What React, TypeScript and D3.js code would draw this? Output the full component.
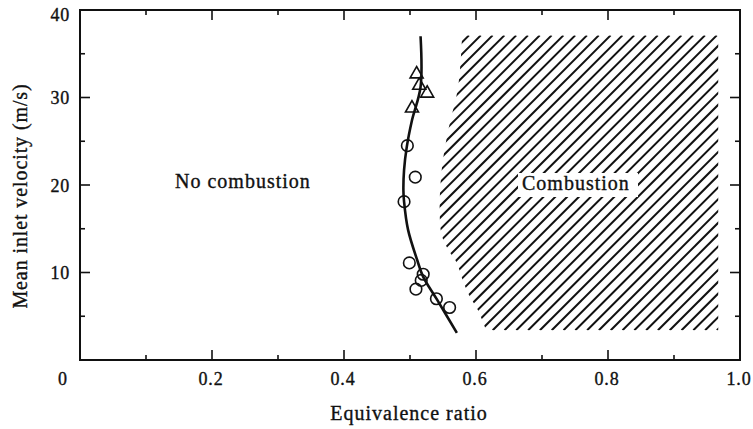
import React from "react";
import * as d3 from "d3";

// ---- data ----
const curvePhi = [0.516, 0.516, 0.503, 0.495, 0.491, 0.490, 0.491, 0.497, 0.511, 0.520, 0.541, 0.571];
const curveVel = [37.0, 31.2, 27.4, 24.3, 21.7, 19.4, 18.1, 14.9, 11.4, 9.5, 6.9, 3.1];

const triPhi = [0.510, 0.514, 0.526, 0.503];
const triVel = [32.8, 31.5, 30.6, 28.9];

const circPhi = [0.496, 0.508, 0.491, 0.499, 0.520, 0.517, 0.509, 0.540, 0.560];
const circVel = [24.5, 20.9, 18.1, 11.1, 9.8, 9.1, 8.1, 7.0, 6.0];

// left boundary of the combustion (hatched) region
const hatchPhi = [0.579, 0.573, 0.558, 0.548, 0.545, 0.548, 0.558, 0.571, 0.580, 0.591, 0.603, 0.614];
const hatchVel = [37.1, 31.2, 26.3, 21.7, 16.8, 14.3, 12.6, 11.1, 9.1, 7.2, 5.7, 3.7];
const hatchRight = 0.967;
const hatchTop = 37.1;
const hatchBottom = 3.4;

const xTickValues = [0, 0.1, 0.2, 0.3, 0.4, 0.5, 0.6, 0.7, 0.8, 0.9, 1.0];
const xLabelValues = [0, 0.2, 0.4, 0.6, 0.8, 1.0];
const xLabelTexts = ["0", "0.2", "0.4", "0.6", "0.8", "1.0"];
const yTickValues = [0, 5, 10, 15, 20, 25, 30, 35, 40];
const yLabelValues = [10, 20, 30, 40];
const yLabelTexts = ["10", "20", "30", "40"];

const W = 753;
const H = 429;
const M = { left: 80, right: 13, top: 10, bottom: 69 };
const FONT = "'Liberation Serif', 'DejaVu Serif', serif";
const INK = "#111";

export default function App() {
  const x = d3.scaleLinear().domain([0, 1]).range([M.left, W - M.right]);
  const y = d3.scaleLinear().domain([0, 40]).range([H - M.bottom, M.top]);
  const x0 = x(0), x1 = x(1), y0 = y(0), y1 = y(40);

  const curvePts: [number, number][] = curvePhi.map((p, i) => [x(p), y(curveVel[i])]);
  const curvePath = d3.line().curve(d3.curveCatmullRom.alpha(0.5))(curvePts) || "";

  const boundary: [number, number][] = hatchPhi.map((p, i) => [x(p), y(hatchVel[i])]);
  const last = boundary[boundary.length - 1];
  const boundaryPath = d3.line().curve(d3.curveCatmullRom.alpha(0.5))(boundary) || "";
  const hatchPoly =
    boundaryPath +
    `L${last[0] + 1},${y(hatchBottom)}L${x(hatchRight)},${y(hatchBottom)}L${x(hatchRight)},${y(hatchTop)}Z`;

  // hatch lines at 45 degrees
  const hx0 = x(0.5), hx1 = x(hatchRight), hy0 = y(hatchTop), hy1 = y(hatchBottom);
  const hh = hy1 - hy0;
  const spacing = 11.8;
  const hatchLines: { x1: number; y1: number; x2: number; y2: number }[] = [];
  for (let sx = hx0 - hh; sx < hx1 + 5; sx += spacing) {
    hatchLines.push({ x1: sx, y1: hy1, x2: sx + hh, y2: hy0 });
  }

  const tri = (cx: number, cy: number) => {
    const s = 6.5;
    return `M${cx},${cy - s}L${cx + s},${cy + s * 0.75}L${cx - s},${cy + s * 0.75}Z`;
  };

  const combLabelX = 522, combLabelY = 190;
  const textStyle = { fill: INK, stroke: INK, strokeWidth: 0.35 };

  return (
    <svg
      width={W}
      height={H}
      style={{ position: "absolute", left: 0, top: 0, background: "#fff" }}
      fontFamily={FONT}
    >
      <rect x={0} y={0} width={W} height={H} fill="#fff" />
      <defs>
        <clipPath id="hatchClip">
          <path d={hatchPoly} />
        </clipPath>
      </defs>

      {/* hatched combustion region */}
      <g clipPath="url(#hatchClip)">
        {hatchLines.map((l, i) => (
          <line key={i} x1={l.x1} y1={l.y1} x2={l.x2} y2={l.y2} stroke={INK} strokeWidth={2.0} />
        ))}
      </g>

      {/* region labels */}
      <text x={175} y={188} fontSize={20} letterSpacing={1} style={textStyle}>
        No combustion
      </text>
      <rect x={combLabelX - 4} y={combLabelY - 17} width={120} height={24} fill="#fff" />
      <text x={combLabelX} y={combLabelY} fontSize={20} letterSpacing={1} style={textStyle}>
        Combustion
      </text>

      {/* frame */}
      <rect x={x0} y={y1} width={x1 - x0} height={y0 - y1} fill="none" stroke={INK} strokeWidth={2} />

      {/* x ticks, bottom and top, inward */}
      {xTickValues.map((v, i) => {
        const len = i % 2 === 0 ? 10 : 5;
        if (i === 0 || i === xTickValues.length - 1) return null;
        return (
          <g key={"xt" + i}>
            <line x1={x(v)} x2={x(v)} y1={y0} y2={y0 - len} stroke={INK} strokeWidth={1.6} />
            <line x1={x(v)} x2={x(v)} y1={y1} y2={y1 + len} stroke={INK} strokeWidth={1.6} />
          </g>
        );
      })}
      {/* y ticks, left and right, inward */}
      {yTickValues.map((v, i) => {
        const len = i % 2 === 0 ? 10 : 5;
        if (i === 0 || i === yTickValues.length - 1) return null;
        return (
          <g key={"yt" + i}>
            <line x1={x0} x2={x0 + len} y1={y(v)} y2={y(v)} stroke={INK} strokeWidth={1.6} />
            <line x1={x1} x2={x1 - len} y1={y(v)} y2={y(v)} stroke={INK} strokeWidth={1.6} />
          </g>
        );
      })}

      {/* x tick labels */}
      {xLabelValues.map((v, i) => (
        <text
          key={"xl" + i}
          x={v === 0 ? x(v) - 17 : x(v) - 1}
          y={385}
          fontSize={18}
          letterSpacing={0.8}
          textAnchor="middle"
          style={textStyle}
        >
          {xLabelTexts[i]}
        </text>
      ))}
      {/* y tick labels */}
      {yLabelValues.map((v, i) => (
        <text
          key={"yl" + i}
          x={70}
          y={v === 40 ? y(v) + 11 : y(v) + 6.5}
          fontSize={18}
          letterSpacing={0.8}
          textAnchor="end"
          style={textStyle}
        >
          {yLabelTexts[i]}
        </text>
      ))}

      {/* axis titles */}
      <text x={409} y={420} fontSize={20} letterSpacing={1} textAnchor="middle" style={textStyle}>
        Equivalence ratio
      </text>
      <text
        transform={`translate(27,196) rotate(-90)`}
        fontSize={20}
        letterSpacing={0.9}
        textAnchor="middle"
        style={textStyle}
      >
        Mean inlet velocity (m/s)
      </text>

      {/* fitted curve */}
      <path d={curvePath} fill="none" stroke={INK} strokeWidth={2.6} />

      {/* circles */}
      {circPhi.map((p, i) => (
        <circle key={"c" + i} cx={x(p)} cy={y(circVel[i])} r={5.8} fill="none" stroke={INK} strokeWidth={1.6} />
      ))}
      {/* triangles */}
      {triPhi.map((p, i) => (
        <path key={"t" + i} d={tri(x(p), y(triVel[i]))} fill="none" stroke={INK} strokeWidth={1.6} />
      ))}
    </svg>
  );
}
